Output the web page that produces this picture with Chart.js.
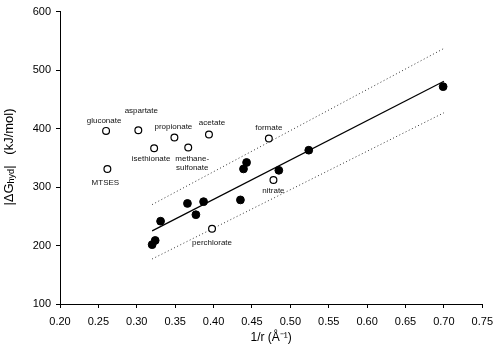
<!DOCTYPE html>
<html><head><meta charset="utf-8">
<script src="https://cdn.jsdelivr.net/npm/chart.js@4"></script>
<style>html,body{margin:0;padding:0;background:#fff}#wrap{width:500px;height:357px}</style>
</head><body><div id="wrap"><canvas id="c" width="500" height="357"></canvas></div>
<script>
// Filled circles (fitted anions)
const filledX = [0.320, 0.324, 0.331, 0.366, 0.377, 0.387, 0.435, 0.439, 0.443, 0.485, 0.524, 0.699];
const filledY = [201.5, 208.7, 241.6, 272, 252.7, 275, 278, 331, 342, 328.6, 363, 471.7];
// Open circles (labelled anions)
const openNames = ["gluconate", "aspartate", "propionate", "acetate", "isethionate", "methane-\nsulfonate", "MTSES", "formate", "nitrate", "perchlorate"];
const openX = [0.260, 0.302, 0.349, 0.394, 0.3226, 0.367, 0.2617, 0.472, 0.478, 0.398];
const openY = [396, 397, 384.8, 389.8, 366.4, 367.6, 330.8, 383, 312, 228.8];
// Regression line and confidence bands
const fitX = [0.32, 0.70];
const fitY = [225, 481];
const upperY = [270, 537];
const lowerY = [177, 427];
// Ticks
const xTicks = [0.20, 0.25, 0.30, 0.35, 0.40, 0.45, 0.50, 0.55, 0.60, 0.65, 0.70, 0.75];
const yTicks = [100, 200, 300, 400, 500, 600];

const FONT = "'Liberation Sans', Arial, Helvetica, sans-serif";
const pts = (xs, ys) => xs.map((x, i) => ({x: x, y: ys[i]}));

const labelOffsets = [[-2,-10],[3,-20],[-1,-11],[3,-12],[-3,11],[4,11],[-2,14],[0,-11],[0,11],[0,14]];

const labelPlugin = {
  id: 'pointLabels',
  afterDatasetsDraw(chart) {
    const ctx = chart.ctx, xs = chart.scales.x, ys = chart.scales.y;
    ctx.save();
    ctx.font = "8px " + FONT;
    ctx.fillStyle = '#111';
    ctx.textAlign = 'center';
    ctx.textBaseline = 'middle';
    openNames.forEach((name, i) => {
      const px = xs.getPixelForValue(openX[i]) + labelOffsets[i][0];
      const py = ys.getPixelForValue(openY[i]) + labelOffsets[i][1];
      name.split('\n').forEach((line, k) => ctx.fillText(line, px, py + k * 9.4));
    });
    ctx.restore();
  }
};

const yTitlePlugin = {
  id: 'yTitle',
  afterDraw(chart) {
    const ctx = chart.ctx;
    ctx.save();
    ctx.translate(9, 157);
    ctx.rotate(-Math.PI / 2);
    ctx.fillStyle = '#000';
    ctx.textBaseline = 'middle';
    ctx.textAlign = 'left';
    const big = "13px " + FONT, small = "9px " + FONT;
    const parts = [["|\u0394G", big, 0], ["hyd", small, 3], ["|", big, 0], ["   (kJ/mol)", big, 0]];
    let total = 0;
    parts.forEach(p => { ctx.font = p[1]; total += ctx.measureText(p[0]).width; });
    let x = -total / 2;
    parts.forEach(p => { ctx.font = p[1]; ctx.fillText(p[0], x, p[2]); x += ctx.measureText(p[0]).width; });
    ctx.restore();
  }
};

new Chart(document.getElementById('c'), {
  type: 'scatter',
  data: {
    datasets: [
      { label: 'filled', data: pts(filledX, filledY), pointRadius: 3.9, pointBackgroundColor: '#000', pointBorderColor: '#000', pointBorderWidth: 1, showLine: false },
      { label: 'open', data: pts(openX, openY), pointRadius: 3.4, pointBackgroundColor: '#fff', pointBorderColor: '#000', pointBorderWidth: 1.2, showLine: false },
      { label: 'fit', data: pts(fitX, fitY), showLine: true, pointRadius: 0, borderColor: '#000', borderWidth: 1.2, fill: false },
      { label: 'upper', data: pts(fitX, upperY), showLine: true, pointRadius: 0, borderColor: '#333', borderWidth: 1, borderDash: [1, 2.5], fill: false },
      { label: 'lower', data: pts(fitX, lowerY), showLine: true, pointRadius: 0, borderColor: '#333', borderWidth: 1, borderDash: [1, 2.5], fill: false }
    ]
  },
  options: {
    responsive: false,
    animation: false,
    devicePixelRatio: 1,
    layout: { padding: { top: 5, right: 12, left: 0, bottom: 0 }, autoPadding: false },
    plugins: { legend: { display: false }, tooltip: { enabled: false } },
    scales: {
      x: {
        type: 'linear', min: 0.2, max: 0.75,
        afterBuildTicks: s => { s.ticks = xTicks.map(v => ({value: v})); },
        afterFit: s => { s.height = 53; },
        ticks: { callback: v => Number(v).toFixed(2), color: '#000', font: { family: FONT, size: 11 }, padding: 7, maxRotation: 0, autoSkip: false },
        grid: { drawOnChartArea: false, drawTicks: true, tickLength: 4, color: '#000', tickColor: '#000' },
        border: { display: true, color: '#000', width: 1 },
        title: { display: true, text: '1/r (\u00C5\u207B\u00B9)', color: '#000', font: { family: FONT, size: 12 }, padding: { top: 0, bottom: 12 } }
      },
      y: {
        type: 'linear', min: 100, max: 600,
        afterBuildTicks: s => { s.ticks = yTicks.map(v => ({value: v})); },
        afterFit: s => { s.width = 60; },
        ticks: { color: '#000', font: { family: FONT, size: 11 }, padding: 5, autoSkip: false },
        grid: { drawOnChartArea: false, drawTicks: true, tickLength: 4, color: '#000', tickColor: '#000' },
        border: { display: true, color: '#000', width: 1 },
        title: { display: false }
      }
    }
  },
  plugins: [labelPlugin, yTitlePlugin]
});
</script>
</body></html>
